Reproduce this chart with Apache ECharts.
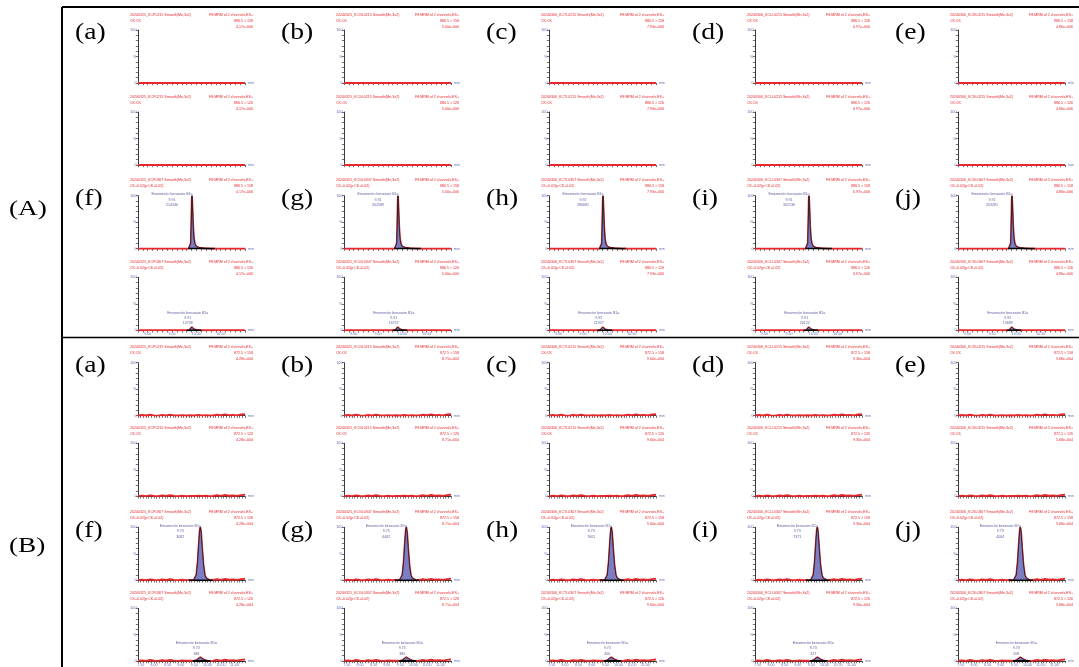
<!DOCTYPE html>
<html><head><meta charset="utf-8">
<script src="https://cdn.jsdelivr.net/npm/echarts@6/dist/echarts.min.js"></script>
<style>html,body{margin:0;padding:0;background:#fff}#c{width:1079px;height:667px}</style>
</head><body><div id="c"></div><script>
// ---------------- data ----------------
const sectionLabels = ['(A)', '(B)'];
const panelLetters = ['a','b','c','d','e','f','g','h','i','j'];
const sampleNames = ['20240325_KCP', '20240325_KCGL', '20240306_KCTL', '20240306_KCLL', '20240306_KCSL'];
const sampleSuffixRow = ['0215', '0307'];
const methodText = ' Smooth(Mn,3x2)';
const treatmentRow = ['CK:CK', 'CK+0.02(p:CK+0.02)'];
const channelText = 'F8:MRM of 2 channels,ES+';
const transA = ['886.5 > 158', '886.5 > 126'];
const transB = ['872.5 > 158', '872.5 > 126'];
const scalesA = ['4.17e+006', '5.00e+006', '7.93e+006', '6.97e+006', '4.86e+006'];
const scalesB = ['4.28e+004', '8.71e+004', '9.60e+004', '9.30e+004', '5.68e+004'];
const compoundName = 'Emamectin benzoate B1a';
const rtA = [9.91, 9.91, 9.92, 9.91, 9.92];
const areaATop = ['214346', '302589', '286681', '302136', '263281'];
const areaABot = ['12738', '16757', '21927', '20122', '13689'];
const rtB = [9.73, 9.75, 9.73, 9.73, 9.73];
const areaBTop = ['3082', '6462', '7601', '7371', '4064'];
const areaBBot = ['188', '380', '400', '327', '208'];
const xRangeA = [8.8, 11.0];
const xRangeB = [7.4, 11.4];
const xLabelsA = [9.0, 9.5, 10.0, 10.5];
const xLabelsB = [7.5, 8.0, 8.5, 9.0, 9.5, 10.0, 10.5, 11.0];
const yLabels = {100: '100', 50: '%', 0: '0'};
// chromatogram traces [min, %]
const flatA = [[8.8, 0], [11.0, 0]];
const peakATop = [[9.84,0],[9.87,1],[9.885,10],[9.895,45],[9.905,90],[9.91,100],[9.92,78],[9.935,42],[9.95,20],[9.97,9],[10.0,4],[10.06,2],[10.15,0.8],[10.3,0]];
const peakABot = [[9.85,0],[9.88,2],[9.905,6],[9.925,4],[9.95,2],[10.0,0.8],[10.08,0]];
const baseATop = [[9.83,0],[10.38,0]];
const baseABot = [[9.80,0],[10.10,0]];
const noiseBPre = [[7.4,0.4],[7.55,1.2],[7.7,0.3],[7.85,1.8],[8.0,0.6],[8.15,0.2],[8.3,1.4],[8.45,0.5],[8.6,2.0],[8.75,0.7],[8.9,0.3],[9.05,1.1],[9.2,0.4],[9.35,0.8]];
const noiseBMid = [[9.5,0.5],[9.65,1.3],[9.8,0.6],[9.95,1.0],[10.05,0.3]];
const noiseBPost = [[10.2,0.6],[10.35,1.9],[10.5,0.8],[10.65,2.4],[10.8,1.0],[10.95,1.6],[11.1,0.7],[11.25,2.2],[11.4,2.8]];
const peakBTop = [[9.48,0],[9.53,2],[9.58,10],[9.63,35],[9.68,75],[9.71,95],[9.73,100],[9.76,90],[9.80,60],[9.85,28],[9.90,10],[9.95,4],[10.02,1.5],[10.10,0]];
const peakBBot = [[9.50,0],[9.58,1.5],[9.65,4],[9.73,7],[9.80,5],[9.87,2.5],[9.95,1],[10.05,0]];
const baseBTop = [[9.30,0],[10.20,0]];
const baseBBot = [[9.45,0],[10.10,0]];

// ---------------- layout ----------------
const colAxisX = [138, 344, 549, 755, 958];
const rowTops = [[30, 112], [195.7, 277.3], [362.7, 443.3], [527.3, 608.3]];
const plotW = 107, plotH = 53;
const RED = '#e5282c', BLUE_T = '#5f6db5', NAVY = '#34348a';
const SANS = 'Liberation Sans';

const grids = [], xAxes = [], yAxes = [], series = [], graphics = [];
let gi = 0;
for (let sec = 0; sec < 2; sec++) {
  const isA = sec === 0;
  const xr = isA ? xRangeA : xRangeB;
  const xl = isA ? xLabelsA : xLabelsB;
  for (let row = 0; row < 2; row++) {
    for (let col = 0; col < 5; col++) {
      const p = row * 5 + col;
      const ax = colAxisX[col];
      graphics.push({type:'text', x: ax - 63, y: rowTops[sec*2+row][0] + 3, scaleX: 1.15,
        style:{text:'(' + panelLetters[p] + ')', fontSize: 24, fontFamily:'Liberation Serif', fill:'#000',
          verticalAlign:'middle', textVerticalAlign:'middle'}});
      for (let sub = 0; sub < 2; sub++) {
        const top = rowTops[sec*2+row][sub];
        grids.push({left: ax, top: top, width: plotW, height: plotH});
        const showX = row === 1 && sub === 1;
        xAxes.push({type:'value', gridIndex: gi, min: xr[0], max: xr[1], interval: 0.1,
          name:'min', nameLocation:'end', nameGap: 3,
          nameTextStyle:{fontSize: 3.6, color: BLUE_T, fontFamily: SANS},
          axisLine:{lineStyle:{color:'#222', width: 0.9}},
          axisTick:{show:true, length: 2.2, lineStyle:{color:'#333', width: 0.7}},
          splitLine:{show:false},
          axisLabel:{show: showX, fontSize: 3.6, color: BLUE_T, margin: 2, fontFamily: SANS,
            formatter: v => xl.some(t => Math.abs(t - v) < 1e-6) ? v.toFixed(2) : ''}});
        yAxes.push({type:'value', gridIndex: gi, min: 0, max: 100, interval: 10,
          axisLine:{show:true, lineStyle:{color:'#222', width: 0.9}},
          axisTick:{show:true, length: 2.2, lineStyle:{color:'#333', width: 0.7}},
          splitLine:{show:false},
          axisLabel:{fontSize: 3.8, color: BLUE_T, margin: 1.5, fontFamily: SANS,
            formatter: v => yLabels[Math.round(v)] !== undefined && Math.abs(v - Math.round(v)) < 1e-6 ? yLabels[Math.round(v)] : ''}});
        // headers
        graphics.push({type:'text', x: ax - 8, y: top - 18.6,
          style:{text: sampleNames[col] + sampleSuffixRow[row] + methodText + '\n' + treatmentRow[row],
            fontSize: 3.6, lineHeight: 6.2, fontFamily: SANS, fill: RED, verticalAlign:'top', textVerticalAlign:'top'}});
        const trans = (isA ? transA : transB)[sub];
        const scale = (isA ? scalesA : scalesB)[col];
        graphics.push({type:'text', x: ax + 115, y: top - 18.5,
          style:{text: channelText + '\n' + trans + '\n' + scale,
            fontSize: 3.6, lineHeight: 6, fontFamily: SANS, fill: RED, align:'right', textAlign:'right',
            verticalAlign:'top', textVerticalAlign:'top'}});
        // data
        let trace, peak = null, base = null, rt = null, area = null;
        if (row === 0) {
          trace = isA ? flatA : noiseBPre.concat(noiseBMid, noiseBPost);
        } else {
          peak = isA ? (sub === 0 ? peakATop : peakABot) : (sub === 0 ? peakBTop : peakBBot);
          base = isA ? (sub === 0 ? baseATop : baseABot) : (sub === 0 ? baseBTop : baseBBot);
          trace = isA ? [flatA[0]].concat(peak, [flatA[1]]) : noiseBPre.concat(peak, noiseBPost);
          rt = (isA ? rtA : rtB)[col];
          area = isA ? (sub === 0 ? areaATop : areaABot)[col] : (sub === 0 ? areaBTop : areaBBot)[col];
        }
        series.push({type:'line', xAxisIndex: gi, yAxisIndex: gi, data: trace, symbol:'none',
          lineStyle:{color: RED, width: 1.9}, z: 2, silent: true});
        if (peak) {
          series.push({type:'line', xAxisIndex: gi, yAxisIndex: gi, data: peak, symbol:'none',
            lineStyle:{color:'#151515', width: 0.8}, areaStyle:{color:'#7d7dc4', opacity: 1}, z: 3, silent: true});
          series.push({type:'line', xAxisIndex: gi, yAxisIndex: gi, data: base, symbol:'none',
            lineStyle:{color:'#000', width: 1.8}, z: 4, silent: true});
          const apex = peak.reduce((m, d) => d[1] > m[1] ? d : m, peak[0]);
          series.push({type:'scatter', xAxisIndex: gi, yAxisIndex: gi, data: [apex], symbolSize: 0.1, z: 5, silent: true,
            itemStyle:{color:'transparent'},
            label:{show: true, position: 'top', distance: 1, offset: sub === 0 ? [-20, 13] : [-4, 0],
              formatter: compoundName + '\n' + rt.toFixed(2) + '\n' + area,
              fontSize: 3.6, lineHeight: 5.4, color: NAVY, fontFamily: SANS, align: 'center'}});
        }
        gi++;
      }
    }
  }
}
// frame and section labels
graphics.push({type:'line', shape:{x1: 62, y1: 7, x2: 62, y2: 667}, style:{stroke:'#000', lineWidth: 2}});
graphics.push({type:'line', shape:{x1: 62, y1: 7, x2: 1079, y2: 7}, style:{stroke:'#000', lineWidth: 2}});
graphics.push({type:'line', shape:{x1: 62, y1: 337.5, x2: 1079, y2: 337.5}, style:{stroke:'#000', lineWidth: 1.5}});
graphics.push({type:'text', x: 9, y: 209, scaleX: 1.3, style:{text: sectionLabels[0], fontSize: 21, fontFamily:'Liberation Serif', fill:'#000', verticalAlign:'middle', textVerticalAlign:'middle'}});
graphics.push({type:'text', x: 9, y: 546, scaleX: 1.3, style:{text: sectionLabels[1], fontSize: 21, fontFamily:'Liberation Serif', fill:'#000', verticalAlign:'middle', textVerticalAlign:'middle'}});

const chart = echarts.init(document.getElementById('c'));
chart.setOption({animation: false, grid: grids, xAxis: xAxes, yAxis: yAxes, series: series, graphic: {elements: graphics}});
</script></body></html>
